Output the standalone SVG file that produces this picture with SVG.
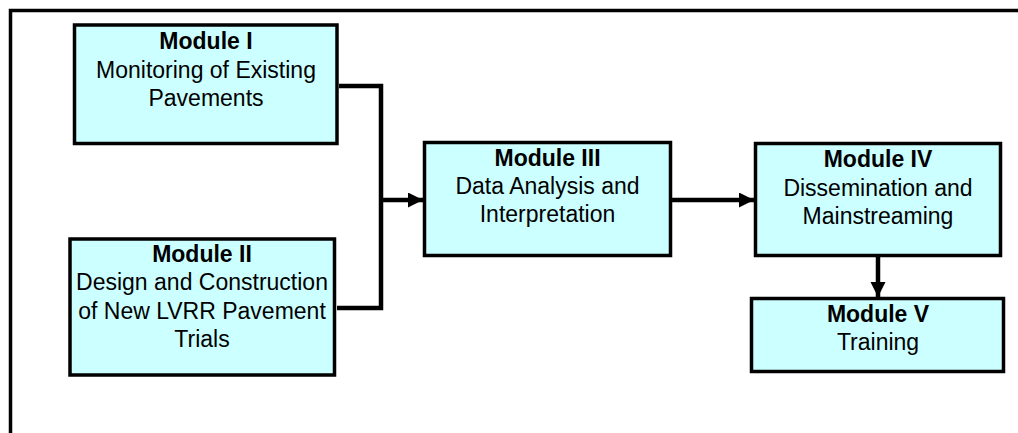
<svg xmlns="http://www.w3.org/2000/svg" width="1018" height="433" viewBox="0 0 1018 433">
<defs>
<style>
.box{fill:#CCFFFF;stroke:#000;stroke-width:3.5}
.t{font-family:"Liberation Sans",Arial,sans-serif;font-size:23px;fill:#000;text-anchor:middle}
.b{font-weight:bold}
.c{fill:none;stroke:#000;stroke-width:4.5}
</style>
<marker id="ah" markerUnits="userSpaceOnUse" markerWidth="16" markerHeight="16" refX="15" refY="7.5" orient="auto">
<path d="M0,0 L15,7.5 L0,15 Z" fill="#000"/>
</marker>
</defs>
<rect width="1018" height="433" fill="#fff"/>
<path d="M10.5,433 V10.5 H1018" fill="none" stroke="#000" stroke-width="3.5"/>
<g id="connectors">
<path class="c" d="M339,86 H381 V308 H337"/>
<path class="c" d="M381,200 H423" marker-end="url(#ah)"/>
<path class="c" d="M672,200 H754" marker-end="url(#ah)"/>
<path class="c" d="M878,257 V297" marker-end="url(#ah)"/>
</g>
<g id="module1">
<rect class="box" x="74.5" y="25" width="262.5" height="118.5"/>
<text class="t b" x="206" y="49">Module I</text>
<text class="t" x="206" y="77.5">Monitoring of Existing</text>
<text class="t" x="206" y="106">Pavements</text>
</g>
<g id="module2">
<rect class="box" x="70" y="239" width="264.5" height="136"/>
<text class="t b" x="202" y="262">Module II</text>
<text class="t" x="202" y="290.3">Design and Construction</text>
<text class="t" x="202" y="318.6">of New LVRR Pavement</text>
<text class="t" x="202" y="347">Trials</text>
</g>
<g id="module3">
<rect class="box" x="424.5" y="142.5" width="246" height="113"/>
<text class="t b" x="547.5" y="166">Module III</text>
<text class="t" x="547.5" y="194">Data Analysis and</text>
<text class="t" x="547.5" y="222">Interpretation</text>
</g>
<g id="module4">
<rect class="box" x="755.5" y="143.5" width="245" height="112"/>
<text class="t b" x="878" y="167">Module IV</text>
<text class="t" x="878" y="195.5">Dissemination and</text>
<text class="t" x="878" y="224">Mainstreaming</text>
</g>
<g id="module5">
<rect class="box" x="751.5" y="298.5" width="252" height="73"/>
<text class="t b" x="878" y="321.5">Module V</text>
<text class="t" x="878" y="350">Training</text>
</g>
</svg>
